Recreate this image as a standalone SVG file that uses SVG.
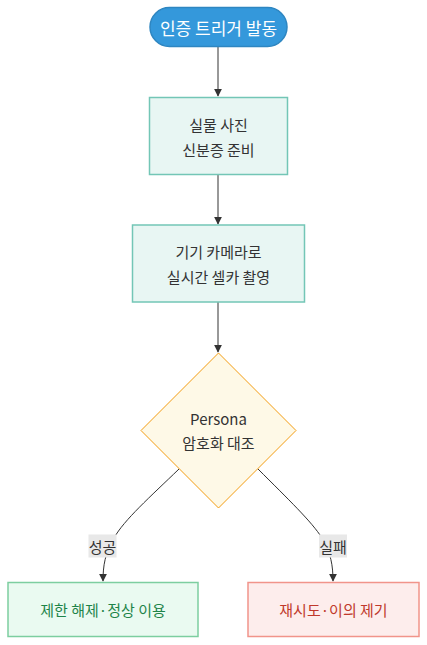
<svg xmlns="http://www.w3.org/2000/svg" width="427" height="645" viewBox="0 0 427 645">
<defs>
<style>
text{font-family:"Noto Sans CJK KR","Noto Sans",sans-serif;font-size:15px;fill:#333;text-anchor:middle;dominant-baseline:central}
.edge{fill:none;stroke:#333;stroke-width:1}
.proc{fill:#e8f6f3;stroke:#73c6b6;stroke-width:1.5}
.lbl{fill:#e8e8e8}
</style>
<marker id="arr" viewBox="0 0 10 10" refX="9" refY="5" markerWidth="8" markerHeight="8" orient="auto-start-reverse" markerUnits="userSpaceOnUse">
<path d="M0,0 L10,5 L0,10 z" fill="#333"/>
</marker>
</defs>
<rect width="427" height="645" fill="#ffffff"/>
<g id="connectors">
<path class="edge" d="M218,46 L218,96" marker-end="url(#arr)"/>
<path class="edge" d="M218,174 L218,224" marker-end="url(#arr)"/>
<path class="edge" d="M218,302 L218,352" marker-end="url(#arr)"/>
<path class="edge" d="M179,469 C150,497 124,520 114,538 C105,553 103,566 103,581" marker-end="url(#arr)"/>
<path class="edge" d="M258,469 C288,499 312,522 322,538 C331,553 333,566 333,581" marker-end="url(#arr)"/>
<g id="label-success"><rect class="lbl" x="88.5" y="534.5" width="28" height="23"/><text x="102.5" y="546">성공</text></g>
<g id="label-fail"><rect class="lbl" x="319" y="534.5" width="28" height="23"/><text x="333" y="546">실패</text></g>
</g>
<g id="start">
<rect x="150" y="7.5" width="137" height="39" rx="19.5" fill="#3498db" stroke="#2e86c1" stroke-width="1.5"/>
<text x="218.5" y="27" style="fill:#ffffff;font-size:17px">인증 트리거 발동</text>
</g>
<g id="prepare">
<rect class="proc" x="149.5" y="97.5" width="138" height="77"/>
<text x="218.5" y="124">실물 사진</text>
<text x="218.5" y="149">신분증 준비</text>
</g>
<g id="capture">
<rect class="proc" x="132.5" y="225" width="172" height="77"/>
<text x="218.5" y="251">기기 카메라로</text>
<text x="218.5" y="276">실시간 셀카 촬영</text>
</g>
<g id="compare">
<polygon points="218.5,353 296,430.5 218.5,508 141,430.5" fill="#fef9e7" stroke="#f39c12" stroke-width="1"/>
<text x="218.5" y="418">Persona</text>
<text x="218.5" y="442">암호화 대조</text>
</g>
<g id="success">
<rect x="8" y="582.5" width="190" height="54" fill="#eafaf1" stroke="#7dcea0" stroke-width="1.5"/>
<text x="103" y="609" style="fill:#1e8449">제한 해제·정상 이용</text>
</g>
<g id="fail">
<rect x="248" y="582.5" width="171" height="54" fill="#fdedec" stroke="#f1948a" stroke-width="1.5"/>
<text x="333.5" y="609" style="fill:#c0392b">재시도·이의 제기</text>
</g>
</svg>
